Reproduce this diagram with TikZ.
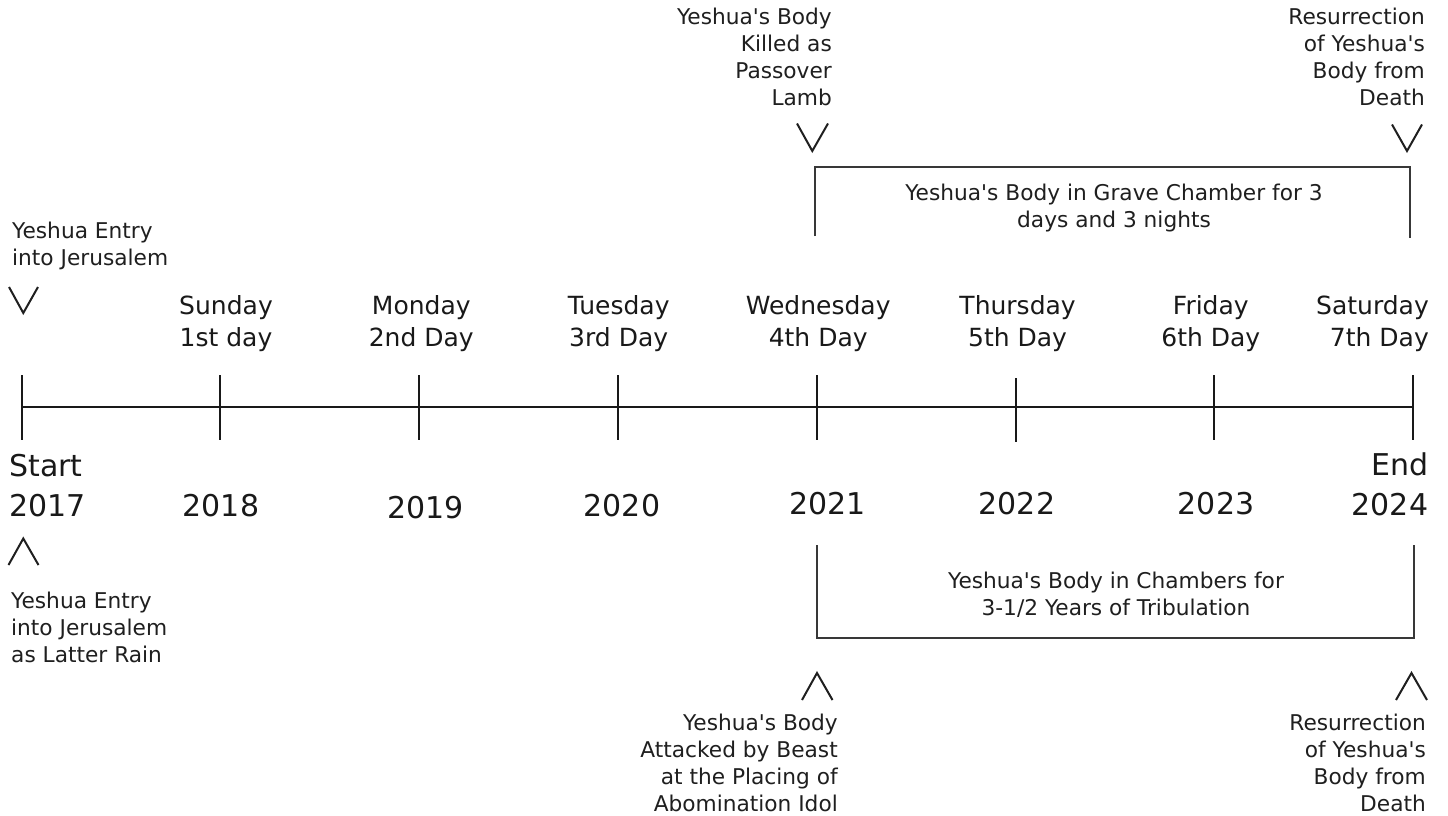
\documentclass[tikz,border=0pt]{standalone}
\usepackage{fontspec}
\setmainfont{DejaVu Sans}
\newcommand{\mlines}[2]{\begin{tabular}[t]{@{}#1@{}}#2\end{tabular}}
\newcommand{\ap}{\textquotesingle}
\begin{document}
\begin{tikzpicture}[x=1pt,y=-1pt,
  axis/.style={draw=black!90, line width=2.8pt},
  tick/.style={draw=black!90, line width=2.5pt},
  brk/.style={draw=black!78, line width=2pt},
  chev/.style={draw=black!88, line width=2pt, line join=miter},
  small/.style={inner sep=0pt, font=\fontsize{21.7}{27}\selectfont, text=black!88},
  day/.style={inner sep=0pt, font=\fontsize{25}{32}\selectfont, text=black!90},
  yr/.style={inner sep=0pt, font=\fontsize{30}{40}\selectfont, text=black!90}]
\useasboundingbox (0,0) rectangle (1448,816);
\fill[white] (0,0) rectangle (1448,816);

% timeline
\coordinate (t0) at (22,407);
\coordinate (t1) at (220,407);
\coordinate (t2) at (419,407);
\coordinate (t3) at (618,407);
\coordinate (t4) at (817,407);
\coordinate (t5) at (1016,407);
\coordinate (t6) at (1214,407);
\coordinate (t7) at (1413,407);
\draw[axis] (t0) -- (t7);
\foreach \x in {22,220,419,618,817,1214,1413} \draw[tick] (\x,375) -- (\x,440);
\draw[tick] (1016,378) -- (1016,442);

% day labels
\node[day, anchor=base] (d1) at (226,314) {\mlines{c}{Sunday\\1st day}};
\node[day, anchor=base] (d2) at (421.3,314) {\mlines{c}{Monday\\2nd Day}};
\node[day, anchor=base] (d3) at (618.7,314) {\mlines{c}{Tuesday\\3rd Day}};
\node[day, anchor=base] (d4) at (818.2,314) {\mlines{c}{Wednesday\\4th Day}};
\node[day, anchor=base] (d5) at (1017.6,314) {\mlines{c}{Thursday\\5th Day}};
\node[day, anchor=base] (d6) at (1210.8,314) {\mlines{c}{Friday\\6th Day}};
\node[day, anchor=base east] (d7) at (1429,314) {\mlines{r}{Saturday\\7th Day}};

% years
\node[yr, anchor=base west] (y0) at (9,476.7) {\mlines{l}{Start\\2017}};
\node[yr, anchor=base] (y1) at (221,516.7) {2018};
\node[yr, anchor=base] (y2) at (425.3,518.5) {2019};
\node[yr, anchor=base] (y3) at (622,516.7) {2020};
\node[yr, anchor=base] (y4) at (827.5,514.3) {2021};
\node[yr, anchor=base] (y5) at (1017,514.3) {2022};
\node[yr, anchor=base] (y6) at (1216,514.3) {2023};
\node[yr, anchor=base east] (y7) at (1428.3,475) {\mlines{r}{End\\2024}};

% top annotations
\node[small, anchor=base west] (entryTop) at (12,238.5) {\mlines{l}{Yeshua Entry\\into Jerusalem}};
\draw[chev] (9,287) -- (23.3,313) -- (38,287);

\node[small, anchor=base east] (killed) at (832,25) {\mlines{r}{Yeshua\ap s Body\\Killed as\\Passover\\Lamb}};
\draw[chev] (797,123.5) -- (812.3,151) -- (828,123.5);

\node[small, anchor=base east] (resTop) at (1425,25) {\mlines{r}{Resurrection\\of Yeshua\ap s\\Body from\\Death}};
\draw[chev] (1392,124.5) -- (1407,151) -- (1422,124.5);

% top bracket
\coordinate (gA) at (814.5,236);
\coordinate (gB) at (814.5,167);
\coordinate (gC) at (1410,167);
\coordinate (gD) at (1410,238);
\draw[brk] (gA) -- (gB) -- (gC) -- (gD);
\node[small, anchor=base] (graveTxt) at (1114,200.7) {\mlines{c}{Yeshua\ap s Body in Grave Chamber for 3\\days and 3 nights}};

% bottom bracket
\coordinate (cA) at (817,545);
\coordinate (cB) at (817,638);
\coordinate (cC) at (1414,638);
\coordinate (cD) at (1414,545);
\draw[brk] (cA) -- (cB) -- (cC) -- (cD);
\node[small, anchor=base] (chambTxt) at (1116,588.3) {\mlines{c}{Yeshua\ap s Body in Chambers for\\3-1/2 Years of Tribulation}};

% bottom annotations
\draw[chev] (8.5,565) -- (23.3,538.5) -- (38.5,565);
\node[small, anchor=base west] (entryBot) at (11,608.3) {\mlines{l}{Yeshua Entry\\into Jerusalem\\as Latter Rain}};

\draw[chev] (802,700) -- (817,673) -- (832.5,700);
\node[small, anchor=base east] (attacked) at (838,730) {\mlines{r}{Yeshua\ap s Body\\Attacked by Beast\\at the Placing of\\Abomination Idol}};

\draw[chev] (1396,700) -- (1411.5,673) -- (1427,700);
\node[small, anchor=base east] (resBot) at (1426,730) {\mlines{r}{Resurrection\\of Yeshua\ap s\\Body from\\Death}};
\end{tikzpicture}
\end{document}
